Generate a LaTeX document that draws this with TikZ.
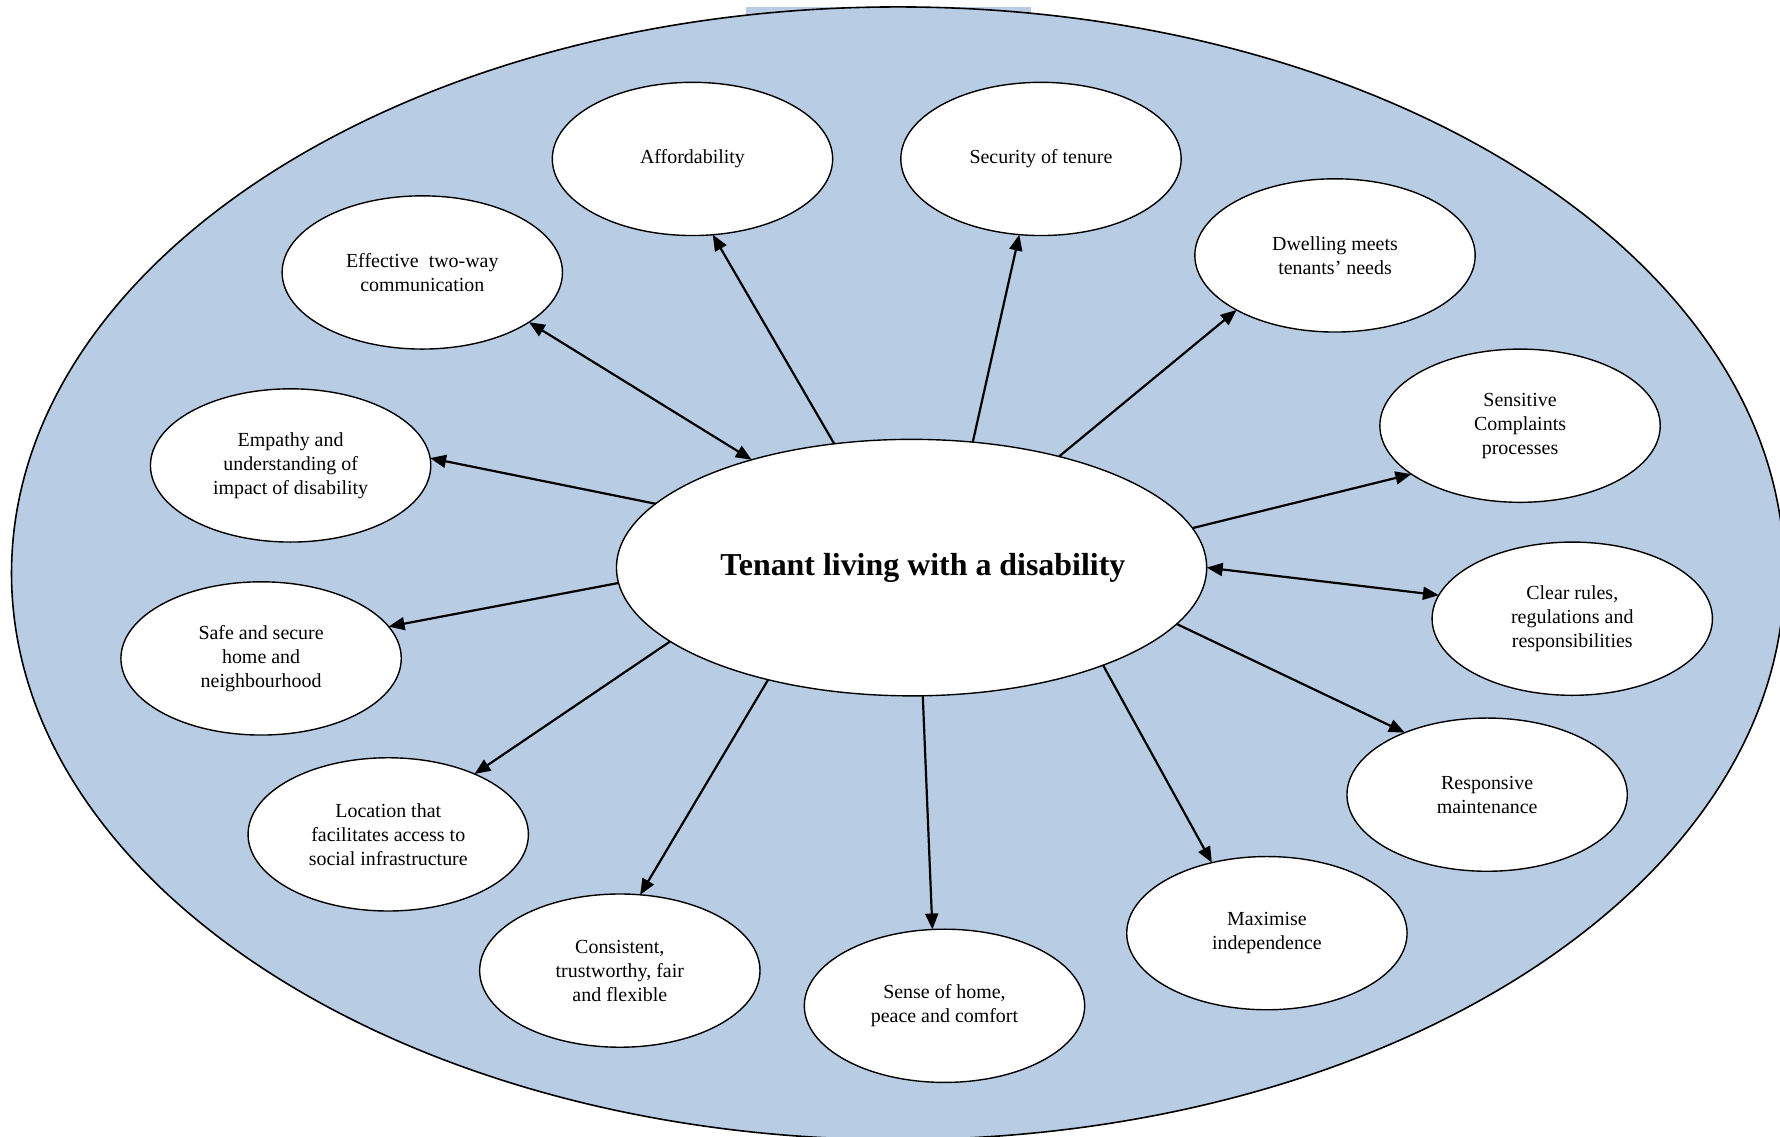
\documentclass[tikz,border=0pt]{standalone}
\usepackage{fontspec}
\setmainfont{Liberation Serif}
\usepackage{tikz}
\usetikzlibrary{shapes.geometric, arrows.meta, positioning}
\tikzset{>={Triangle[length=8pt,width=6.5pt]}}
\usepackage{xcolor}
\definecolor{myblue}{HTML}{B8CCE4}
\tikzset{
	need/.style={draw, line width=0.7pt, fill=white, ellipse, inner sep=0pt, outer sep=0pt,
		minimum width=4.94cm, minimum height=2.7cm, align=center, font=\fontsize{10}{12}\selectfont},
	hub/.style={draw, line width=0.7pt, fill=white, ellipse, inner sep=0pt, outer sep=0pt,
		minimum width=10.4cm, minimum height=4.52cm, font=\fontsize{16}{19}\selectfont\bfseries},
	link/.style={line width=1.1pt}
}

\begin{document}
\begin{tikzpicture}[x=0.02cm, y=-0.02cm]
		\clip (0,0) rectangle (1568,1001);
		\fill[white] (0,0) rectangle (1568,1001);
		% shaded frame
		\fill[myblue] (657,6) rectangle (908,80);
		\draw[line width=0.8pt, fill=myblue] (791,505) ellipse [x radius=15.62cm, y radius=9.98cm];
		% centre
		\node[hub] (tenant) at (803,500) {\kern0.2cm Tenant living with a disability\kern-0.2cm};
		% outcomes
		\node[need] (afford) at (610,140) {Affordability};
		\node[need] (tenure) at (917,140) {Security of tenure};
		\node[need] (dwelling) at (1176,225) {Dwelling meets\\tenants’ needs};
		\node[need] (complaints) at (1339,375) {Sensitive\\Complaints\\processes};
		\node[need] (rules) at (1385,545) {Clear rules,\\regulations and\\responsibilities};
		\node[need] (maint) at (1310,700) {Responsive\\maintenance};
		\node[need] (indep) at (1116,822) {Maximise\\independence};
		\node[need] (home) at (832,886) {Sense of home,\\peace and comfort};
		\node[need] (fair) at (546,855) {Consistent,\\trustworthy, fair\\and flexible};
		\node[need] (location) at (342,735) {Location that\\facilitates access to\\social infrastructure};
		\node[need] (safe) at (230,580) {Safe and secure\\home and\\neighbourhood};
		\node[need] (empathy) at (256,410) {Empathy and\\understanding of\\impact of disability};
		\node[need] (comms) at (372,240) {Effective~ two-way\\communication};
		% connectors
		\draw[link, ->] (tenant.122) -- (afford.-75);
		\draw[link, ->] (tenant.64) -- (tenure.-106);
		\draw[link, ->] (tenant.37) -- (dwelling.-151);
		\draw[link, ->] (tenant.8) -- (complaints.-156);
		\draw[link, <->] (tenant.0) -- (rules.170);
		\draw[link, ->] (tenant.-12) -- (maint.143);
		\draw[link, ->] (tenant.-27) -- (indep.128);
		\draw[link, ->] (tenant.-85) -- (home.99);
		\draw[link, ->] (tenant.-142) -- (fair.75);
		\draw[link, ->] (tenant.-163) -- (location.35);
		\draw[link, ->] (tenant.-177) -- (safe.14);
		\draw[link, ->] (tenant.166) -- (empathy.3);
		\draw[link, <->] (tenant.146) -- (comms.-25);
	\end{tikzpicture}
\end{document}
